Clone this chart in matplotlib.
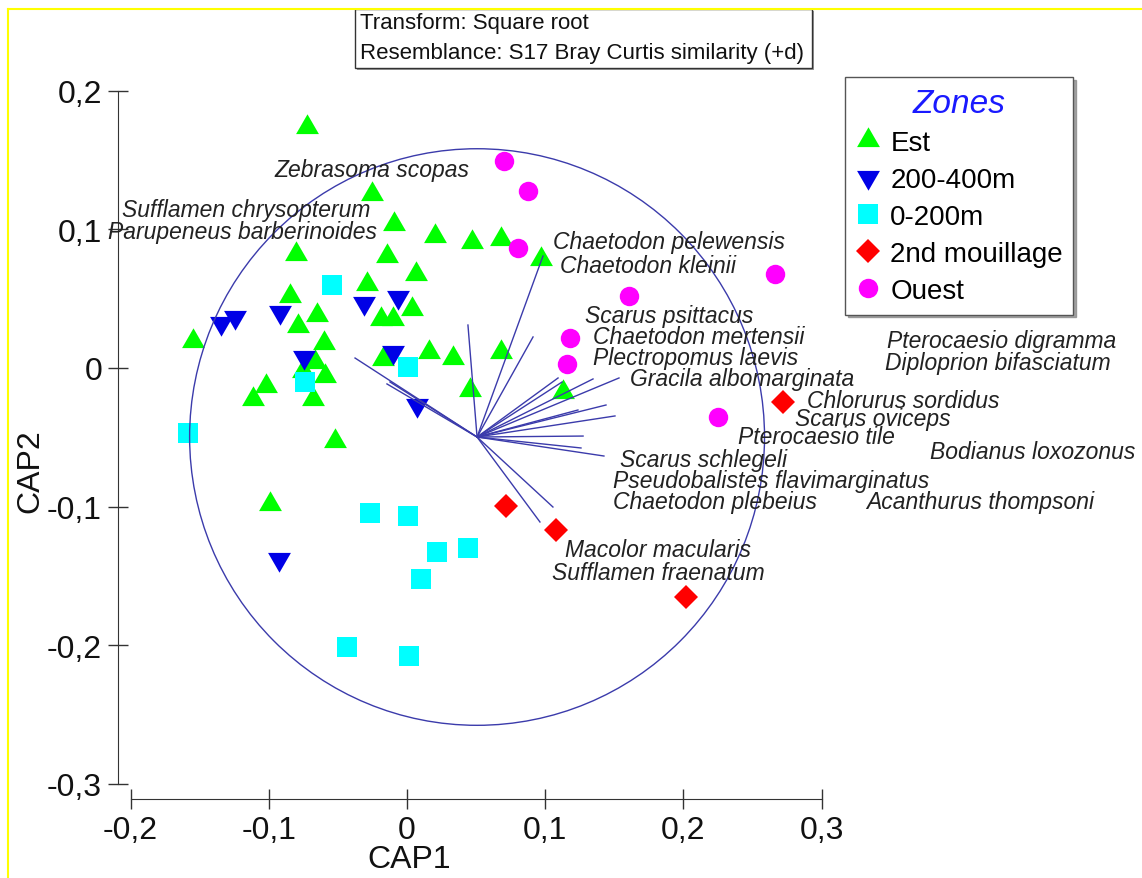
import numpy as np
import matplotlib
matplotlib.use("Agg")
import matplotlib.pyplot as plt
from matplotlib.lines import Line2D
from matplotlib.patches import Circle, Rectangle
from matplotlib.ticker import FuncFormatter

plt.rcParams["font.family"] = ["Liberation Sans", "DejaVu Sans"]

# sample scores on CAP1 / CAP2, per zone
est_x = [-0.0724, -0.0253, -0.0094, 0.0203, 0.0468, 0.0678, 0.0967, -0.0805, -0.0147,
         0.0065, -0.0292, -0.0847, -0.0653, -0.0787, -0.0188, -0.0099, 0.0038, -0.0598,
         -0.1546, 0.0161, 0.0335, -0.0171, -0.0666, -0.0593, -0.1022, -0.1117, -0.0678,
         -0.0755, 0.0456, 0.0678, 0.1131, -0.0521, -0.0991]
est_y = [0.1739, 0.1255, 0.1039, 0.0952, 0.0907, 0.0931, 0.0786, 0.0823, 0.0810,
         0.0678, 0.0606, 0.0522, 0.0382, 0.0305, 0.0354, 0.0354, 0.0426, 0.0180,
         0.0197, 0.0118, 0.0070, 0.0065, 0.0041, -0.0060, -0.0128, -0.0224, -0.0224,
         -0.0019, -0.0157, 0.0113, -0.0175, -0.0527, -0.0979]

deep_x = [-0.1348, -0.1245, -0.0919, -0.0309, -0.0063, -0.0745, -0.0103, 0.0070, -0.0926]
deep_y = [0.0323, 0.0366, 0.0402, 0.0469, 0.0510, 0.0082, 0.0118, -0.0267, -0.1380]

shallow_x = [-0.0545, -0.0738, 0.0005, -0.1585, -0.0268, 0.0007, 0.0217, 0.0441, 0.0101,
             -0.0434, 0.0014]
shallow_y = [0.0599, -0.0103, 0.0005, -0.0469, -0.1046, -0.1068, -0.1328, -0.1299, -0.1522,
             -0.2013, -0.2078]

mouil_x = [0.0716, 0.1078, 0.2019, 0.2723]
mouil_y = [-0.0996, -0.1169, -0.1652, -0.0247]

ouest_x = [0.0702, 0.0878, 0.0801, 0.1609, 0.2663, 0.1179, 0.1160, 0.2248]
ouest_y = [0.1496, 0.1279, 0.0864, 0.0522, 0.0678, 0.0214, 0.0029, -0.0356]

# species vectors (origin + end points)
vec_origin = (0.0507, -0.0498)
vec_x = [-0.0376, -0.0145, -0.0123, 0.0441, 0.0984, 0.0912, 0.1093, 0.1122, 0.1346,
         0.1534, 0.1440, 0.1505, 0.1237, 0.1274, 0.1259, 0.1425, 0.1056, 0.0962]
vec_y = [0.0072, -0.0115, -0.0101, 0.0310, 0.0808, 0.0224, -0.0072, -0.0101, -0.0079,
         -0.0072, -0.0267, -0.0346, -0.0303, -0.0491, -0.0577, -0.0635, -0.1003, -0.1111]
circle_r = 0.208

species = ["Zebrasoma scopas", "Sufflamen chrysopterum", "Parupeneus barberinoides",
           "Chaetodon pelewensis", "Chaetodon kleinii", "Scarus psittacus",
           "Chaetodon mertensii", "Plectropomus laevis", "Gracila albomarginata",
           "Pterocaesio digramma", "Diploprion bifasciatum", "Chlorurus sordidus",
           "Scarus oviceps", "Pterocaesio tile", "Bodianus loxozonus", "Scarus schlegeli",
           "Pseudobalistes flavimarginatus", "Chaetodon plebeius", "Acanthurus thompsoni",
           "Macolor macularis", "Sufflamen fraenatum"]
species_x = [-0.0962, -0.2062, -0.2164, 0.1056, 0.1107, 0.1288, 0.1346, 0.1346, 0.1614,
             0.3473, 0.3459, 0.2894, 0.2808, 0.2395, 0.3784, 0.1541, 0.1491, 0.1491,
             0.3321, 0.1143, 0.1049]
species_y = [0.1429, 0.1147, 0.0988, 0.0911, 0.0738, 0.0377, 0.0229, 0.0077, -0.0074,
             0.0202, 0.0043, -0.0231, -0.0361, -0.0491, -0.0599, -0.0657, -0.0813,
             -0.0965, -0.0960, -0.1311, -0.1474]

zones = ["Est", "200-400m", "0-200m", "2nd mouillage", "Ouest"]
x_ticks = [-0.2, -0.1, 0.0, 0.1, 0.2, 0.3]
y_ticks = [-0.3, -0.2, -0.1, 0.0, 0.1, 0.2]

W, H = 1142, 879
PX = 1382.0   # pixels per unit on CAP1
PY = 1386.0   # pixels per unit on CAP2
X0, Y0 = 407, 369  # pixel of (0, 0)


def comma(v, pos=None):
    if abs(v) < 1e-9:
        return "0"
    return f"{v:.1f}".replace(".", ",")


def main():
    fig = plt.figure(figsize=(W / 100, H / 100), dpi=100)
    ax = fig.add_axes([0, 0, 1, 1])
    ax.set_xlim(-X0 / PX, (W - X0) / PX)
    ax.set_ylim((Y0 - H) / PY, Y0 / PY)
    ax.patch.set_visible(False)

    styles = [
        (est_x, est_y, (3, 0, 0), 19, "#00ff00"),
        (deep_x, deep_y, (3, 0, 180), 19, "#0000e6"),
        (shallow_x, shallow_y, "s", 14, "#00ffff"),
        (mouil_x, mouil_y, "D", 12.5, "#ff0000"),
        (ouest_x, ouest_y, "o", 14, "#ff00ff"),
    ]
    handles = []
    for (xs, ys, mk, ms, col), name in zip(styles, zones):
        ax.plot(xs, ys, ls="none", marker=mk, ms=ms, color=col, mew=0, zorder=2)
        handles.append(Line2D([], [], ls="none", marker=mk, ms=ms, color=col, mew=0,
                              label=name))

    vcol = "#3b3bab"
    ox, oy = vec_origin
    for ex, ey in zip(vec_x, vec_y):
        ax.plot([ox, ex], [oy, ey], color=vcol, lw=1, zorder=3)
    ax.add_patch(Circle(vec_origin, circle_r, fill=False, ec=vcol, lw=1, zorder=3))

    for name, sx, sy in zip(species, species_x, species_y):
        ax.text(sx, sy, name, style="italic", fontsize=16.5, color="#222222",
                ha="left", va="center", zorder=4)

    # axes: detached spines like the PRIMER output
    for s in ["top", "right"]:
        ax.spines[s].set_visible(False)
    ax.spines["left"].set_position(("data", (118 - X0) / PX))
    ax.spines["left"].set_bounds(min(y_ticks), max(y_ticks))
    ax.spines["bottom"].set_position(("data", (Y0 - 800) / PY))
    ax.spines["bottom"].set_bounds(min(x_ticks), max(x_ticks))
    for s in ["left", "bottom"]:
        ax.spines[s].set_color("#333333")
    ax.set_xticks(x_ticks)
    ax.set_yticks(y_ticks)
    ax.xaxis.set_major_formatter(FuncFormatter(comma))
    ax.yaxis.set_major_formatter(FuncFormatter(comma))
    ax.tick_params(direction="inout", length=15, width=1, color="#333333",
                   labelsize=23, labelcolor="#111111", pad=4)

    ax.set_xlabel("CAP1", fontsize=23, color="#111111", va="center")
    ax.xaxis.set_label_coords(409 / W, 1 - 860 / H)
    ax.set_ylabel("CAP2", fontsize=23, color="#111111", va="center")
    ax.yaxis.set_label_coords(30 / W, 1 - 471 / H)

    leg = ax.legend(handles=handles, title="Zones", loc="upper left",
                    bbox_to_anchor=(845 / W, 1 - 78 / H), bbox_transform=fig.transFigure,
                    borderaxespad=0, fontsize=20, frameon=True, fancybox=False,
                    shadow={"ox": 2, "oy": -2, "color": "0.55", "alpha": 0.8},
                    handlelength=0.9, handletextpad=0.35, labelspacing=0.4,
                    borderpad=0.38)
    leg.get_frame().set_edgecolor("#555555")
    leg.get_frame().set_linewidth(1)
    leg.get_title().set_fontsize(24)
    leg.get_title().set_style("italic")
    leg.get_title().set_color("#1a1aff")

    # header box
    hx0, hx1, hy0, hy1 = 355 / W, 812 / W, 1 - 69 / H, 1 - 10 / H
    fig.patches.append(Rectangle((hx0 + 2 / W, hy0 - 2 / H), hx1 - hx0, hy1 - hy0,
                                 transform=fig.transFigure, fc="0.6", ec="none"))
    fig.patches.append(Rectangle((hx0, hy0), hx1 - hx0, hy1 - hy0,
                                 transform=fig.transFigure, fc="white", ec="#333333", lw=1))
    fig.text(360 / W, 1 - 23 / H, "Transform: Square root", fontsize=16,
             color="#111111", ha="left", va="center")
    fig.text(360 / W, 1 - 53 / H, "Resemblance: S17 Bray Curtis similarity (+d)",
             fontsize=16, color="#111111", ha="left", va="center")

    # yellow frame edges from the screenshot
    fig.add_artist(Line2D([8 / W, 1], [1 - 10 / H, 1 - 10 / H], color="#ffff00", lw=1.5,
                          transform=fig.transFigure))
    fig.add_artist(Line2D([8 / W, 8 / W], [0, 1 - 10 / H], color="#ffff00", lw=1.5,
                          transform=fig.transFigure))

    fig.savefig("out.png", dpi=100, facecolor="white")


if __name__ == "__main__":
    main()
